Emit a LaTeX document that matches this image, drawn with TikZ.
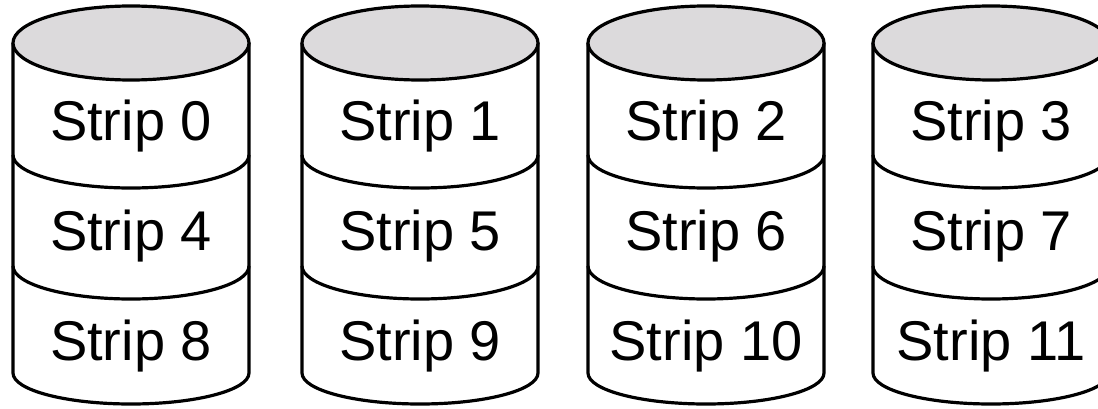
\documentclass[tikz,border=0pt]{standalone}
\usepackage{fontspec}
\setmainfont{Liberation Sans}
\definecolor{topgray}{HTML}{DCDADC}
\begin{document}
\begin{tikzpicture}[x=1pt,y=-1pt,
  cyl/.style={line width=3.2pt,black},
  lbl/.style={font=\fontsize{56}{60}\selectfont,inner sep=0pt,anchor=base}]
\useasboundingbox (0,0) rectangle (1098,409);
\clip (0,0) rectangle (1098,409);
\foreach \cx/\a/\b/\c [count=\i] in {131/0/4/8, 420/1/5/9, 706/2/6/10, 991/3/7/11}{
  % sides and bottom
  \fill[white] (\cx-118,43) -- (\cx-118,373) arc[start angle=180,end angle=360,x radius=118,y radius=-31] -- (\cx+118,43) -- cycle;
  \draw[cyl] (\cx-118,43) -- (\cx-118,373) arc[start angle=180,end angle=360,x radius=118,y radius=-31] -- (\cx+118,43);
  % division arcs
  \draw[cyl] (\cx-118,155) arc[start angle=180,end angle=360,x radius=118,y radius=-33];
  \draw[cyl] (\cx-118,266) arc[start angle=180,end angle=360,x radius=118,y radius=-33];
  % top
  \draw[cyl,fill=topgray] (\cx,43) ellipse[x radius=118,y radius=37];
  \node[lbl] (s\i a) at (\cx,141) {Strip \a};
  \node[lbl] (s\i b) at (\cx,250) {Strip \b};
  \node[lbl] (s\i c) at (\cx,360) {Strip \c};
}
\end{tikzpicture}
\end{document}
